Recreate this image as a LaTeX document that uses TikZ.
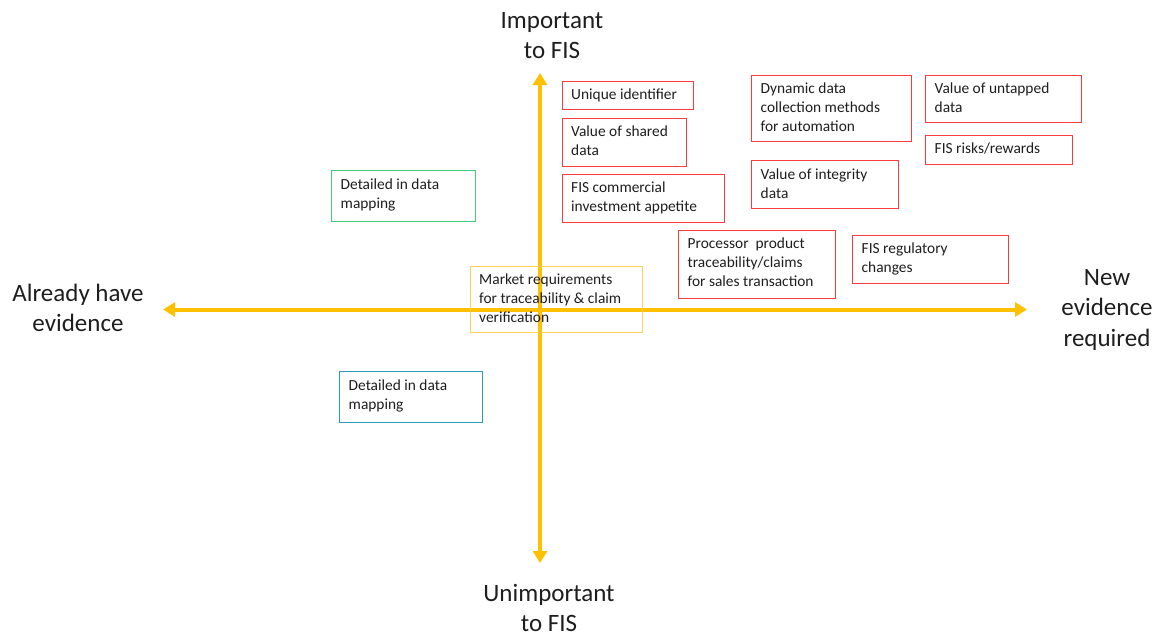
\documentclass[tikz,border=0pt]{standalone}
\usepackage{fontspec}
\setmainfont{Carlito}
\usetikzlibrary{arrows.meta}
\definecolor{axiscol}{RGB}{255,192,0}
\definecolor{redbox}{RGB}{250,60,60}
\definecolor{greenbox}{RGB}{70,200,125}
\definecolor{bluebox}{RGB}{45,155,190}
\definecolor{yellowbox}{RGB}{255,210,85}
\definecolor{ink}{RGB}{30,30,30}
% lines stacked downwards from the first baseline
\newcommand{\linesL}[1]{\begin{tabular}[t]{@{}l@{}}#1\end{tabular}}
\newcommand{\linesC}[1]{\begin{tabular}[t]{@{}c@{}}#1\end{tabular}}
\begin{document}
\begin{tikzpicture}[x=1pt,y=-1pt,
  box/.style={draw, line width=1.2pt, anchor=north west, inner sep=0pt},
  boxtxt/.style={anchor=base west, inner sep=0pt, text=ink,
    font=\fontsize{15.4}{19}\selectfont},
  biglabel/.style={inner sep=0pt, text=ink, anchor=base,
    font=\fontsize{25}{30.5}\selectfont},
  axis/.style={draw=axiscol, line width=4pt,
    {Triangle[width=14pt,length=12pt]}-{Triangle[width=14pt,length=12pt]}}]
\useasboundingbox (0,0) rectangle (1161,635);

% axes
\coordinate (left) at (163,309.5);
\coordinate (right) at (1027,309.5);
\coordinate (top) at (540,73);
\coordinate (bottom) at (540,563);
\draw[axis] (left) -- (right);
\draw[axis] (top) -- (bottom);

% axis labels
\node[biglabel] (imp) at (552,28) {\linesC{Important\\to FIS}};
\node[biglabel] (unimp) at (549,601) {\linesC{Unimportant\\to FIS}};
\node[biglabel] (have) at (78,301) {\linesC{Already have\\evidence}};
\node[biglabel] (new) at (1107,285) {\linesC{New\\evidence\\required}};

% boxes: \mybox{name}{colour}{x}{y}{w}{h}{text}
\newcommand{\mybox}[7]{%
  \node[box, draw=#2, minimum width=#5pt, minimum height=#6pt] (#1) at (#3,#4) {};
  \node[boxtxt] (#1-t) at ([xshift=9.5pt,yshift=-19.3pt]#1.north west) {\linesL{#7}};
}
\mybox{uid}{redbox}{561.5}{80.5}{131}{28.5}{Unique identifier}
\mybox{shared}{redbox}{561.5}{117.5}{124}{48}{Value of shared\\data}
\mybox{appetite}{redbox}{561.5}{173.5}{162}{48}{FIS commercial\\investment appetite}
\mybox{dynamic}{redbox}{751}{74.5}{160}{66.5}{Dynamic data\\collection methods\\for automation}
\mybox{untapped}{redbox}{925}{74.5}{155.5}{47.5}{Value of untapped\\data}
\mybox{risks}{redbox}{925}{134.5}{146.5}{29}{FIS risks/rewards}
\mybox{integrity}{redbox}{751}{160}{147}{48}{Value of integrity\\data}
\mybox{regulatory}{redbox}{852}{234.5}{155.5}{48}{FIS regulatory\\changes}
\mybox{processor}{redbox}{678}{229.5}{156.5}{68}{Processor\ \ product\\traceability/claims\\for sales transaction}
\mybox{green}{greenbox}{331}{170}{143.5}{51}{Detailed in data\\mapping}
\mybox{blue}{bluebox}{339}{371}{142.5}{51}{Detailed in data\\mapping}
\mybox{market}{yellowbox}{469.5}{265.5}{172.5}{66.5}{Market requirements\\for traceability \& claim\\verification}
\end{tikzpicture}
\end{document}
